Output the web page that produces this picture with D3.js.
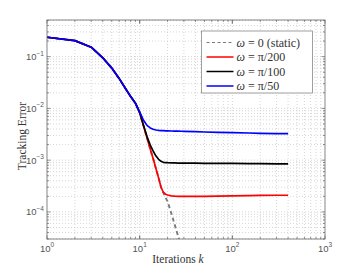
<!DOCTYPE html>
<html>
<head>
<meta charset="utf-8">
<script src="https://cdn.jsdelivr.net/npm/d3@7"></script>
<style>
  body { margin: 0; background: #fff; }
  svg { display: block; }
</style>
</head>
<body>
<div id="chart"></div>
<script>
// Iterations (x) for each series
const kAll = [1, 2, 3, 4, 5, 6, 7, 8, 9, 10, 11, 12, 13, 14, 15, 16, 17, 18, 19, 20,
  22, 24, 26, 28, 30, 40, 50, 70, 100, 150, 200, 300, 400];
const kStatic = [1, 2, 3, 4, 5, 6, 7, 8, 9, 10, 11, 12, 13, 14, 15, 16, 17, 18, 19, 20,
  22, 24, 26, 28];

// Tracking error
const errStatic = [0.237, 0.204, 0.152, 0.095, 0.060, 0.038, 0.0245, 0.0169, 0.0126, 0.0083,
  4.6e-3, 2.7e-3, 1.65e-3, 1.06e-3, 6.8e-4, 4.55e-4, 3.0e-4, 2.35e-4, 1.9e-4, 1.6e-4,
  9.3e-5, 5.5e-5, 3.4e-5, 2.2e-5];
const errPi200 = [0.237, 0.204, 0.152, 0.095, 0.060, 0.038, 0.0245, 0.0169, 0.0126, 0.0083,
  4.6e-3, 2.7e-3, 1.65e-3, 1.06e-3, 6.8e-4, 4.55e-4, 3.0e-4, 2.4e-4, 2.2e-4, 2.12e-4,
  2.05e-4, 2.02e-4, 2.0e-4, 2.0e-4, 2.0e-4, 2.0e-4, 2.0e-4, 2.02e-4, 2.04e-4, 2.06e-4,
  2.08e-4, 2.1e-4, 2.1e-4];
const errPi100 = [0.237, 0.204, 0.152, 0.095, 0.060, 0.038, 0.0245, 0.0169, 0.0126, 0.0083,
  4.7e-3, 2.85e-3, 1.95e-3, 1.5e-3, 1.2e-3, 1.04e-3, 9.5e-4, 9.1e-4, 9.0e-4, 8.95e-4,
  8.9e-4, 8.85e-4, 8.8e-4, 8.8e-4, 8.8e-4, 8.75e-4, 8.7e-4, 8.7e-4, 8.65e-4, 8.6e-4,
  8.55e-4, 8.5e-4, 8.5e-4];
const errPi50 = [0.237, 0.204, 0.152, 0.095, 0.060, 0.038, 0.0245, 0.0169, 0.0126, 0.0086,
  5.9e-3, 4.7e-3, 4.2e-3, 3.95e-3, 3.83e-3, 3.77e-3, 3.73e-3, 3.71e-3, 3.69e-3, 3.68e-3,
  3.66e-3, 3.65e-3, 3.63e-3, 3.62e-3, 3.6e-3, 3.55e-3, 3.5e-3, 3.45e-3, 3.4e-3, 3.35e-3,
  3.3e-3, 3.27e-3, 3.25e-3];

const xTicks = [1, 10, 100, 1000];
const xTickExp = ["0", "1", "2", "3"];
const yTicks = [1e-4, 1e-3, 1e-2, 1e-1];
const yTickExp = ["\u22124", "\u22123", "\u22122", "\u22121"];

const series = [
  { name: "0 (static)", k: kStatic, v: errStatic, color: "#7a7a7a", dash: "4,3" },
  { name: "\u03c0/200", k: kAll, v: errPi200, color: "#ff0000", dash: null },
  { name: "\u03c0/100", k: kAll, v: errPi100, color: "#000000", dash: null },
  { name: "\u03c0/50", k: kAll, v: errPi50, color: "#0000ff", dash: null }
];

const width = 359, height = 270;
const margin = { top: 20, right: 34, bottom: 31, left: 47 };
const w = width - margin.left - margin.right;
const h = height - margin.top - margin.bottom;

const svg = d3.select("#chart").append("svg")
  .attr("width", width)
  .attr("height", height);

const x = d3.scaleLog().domain([1, 1000]).range([0, w]);
const y = d3.scaleLog().domain([3e-5, 0.51]).range([h, 0]);

const g = svg.append("g").attr("transform", `translate(${margin.left},${margin.top})`);

// grid (major + minor), dotted
const xGrid = [];
for (let d = 1; d < 1000; d *= 10) for (let m = 1; m < 10; m++) if (d * m > 1) xGrid.push(d * m);
const yGrid = [];
for (let d = 1e-5; d < 1; d *= 10) for (let m = 1; m < 10; m++) {
  const v = d * m;
  if (v > 3e-5 && v < 0.51) yGrid.push(v);
}

g.append("g").selectAll("line").data(xGrid).enter().append("line")
  .attr("x1", d => x(d)).attr("x2", d => x(d))
  .attr("y1", 0).attr("y2", h)
  .attr("stroke", "#c4c4c4").attr("stroke-width", 0.7)
  .attr("stroke-dasharray", "1,2");
g.append("g").selectAll("line").data(yGrid).enter().append("line")
  .attr("y1", d => y(d)).attr("y2", d => y(d))
  .attr("x1", 0).attr("x2", w)
  .attr("stroke", "#c4c4c4").attr("stroke-width", 0.7)
  .attr("stroke-dasharray", "1,2");

// inward ticks on all four sides
const tickG = g.append("g").attr("stroke", "#666").attr("stroke-width", 0.7);
xGrid.concat(xTicks).forEach(d => {
  const len = xTicks.includes(d) ? 3.5 : 2;
  tickG.append("line").attr("x1", x(d)).attr("x2", x(d)).attr("y1", h).attr("y2", h - len);
  tickG.append("line").attr("x1", x(d)).attr("x2", x(d)).attr("y1", 0).attr("y2", len);
});
yGrid.forEach(d => {
  const len = yTicks.includes(d) ? 3.5 : 2;
  tickG.append("line").attr("y1", y(d)).attr("y2", y(d)).attr("x1", 0).attr("x2", len);
  tickG.append("line").attr("y1", y(d)).attr("y2", y(d)).attr("x1", w).attr("x2", w - len);
});

// lines
svg.append("defs").append("clipPath").attr("id", "plotclip")
  .append("rect").attr("width", w).attr("height", h);

const line = d3.line().x(d => x(d[0])).y(d => y(d[1]));
const lineG = g.append("g").attr("clip-path", "url(#plotclip)");
series.forEach(s => {
  lineG.append("path")
    .datum(s.k.map((k, i) => [k, s.v[i]]))
    .attr("d", line)
    .attr("fill", "none")
    .attr("stroke", s.color)
    .attr("stroke-width", s.dash ? 1.9 : 1.7)
    .attr("stroke-dasharray", s.dash)
    .attr("stroke-linejoin", "round");
});

// frame
g.append("rect").attr("width", w).attr("height", h)
  .attr("fill", "none").attr("stroke", "#666").attr("stroke-width", 0.8);

// tick labels
const labFont = "'Liberation Sans', Arial, sans-serif";
yTicks.forEach((d, i) => {
  const t = g.append("text")
    .attr("x", -3).attr("y", y(d) + 3.5)
    .attr("text-anchor", "end")
    .attr("font-family", labFont).attr("font-size", 9.5).attr("fill", "#555");
  t.append("tspan").text("10");
  t.append("tspan").attr("dy", -4.5).attr("font-size", 6.5).text(yTickExp[i]);
});
xTicks.forEach((d, i) => {
  const t = g.append("text")
    .attr("x", x(d)).attr("y", h + 12.5)
    .attr("text-anchor", "middle")
    .attr("font-family", labFont).attr("font-size", 9.5).attr("fill", "#555");
  t.append("tspan").text("10");
  t.append("tspan").attr("dy", -4.5).attr("font-size", 6.5).text(xTickExp[i]);
});

// axis labels
const serif = "'Liberation Serif', 'DejaVu Serif', serif";
const xl = svg.append("text")
  .attr("x", 178).attr("y", 263)
  .attr("text-anchor", "middle")
  .attr("font-family", serif).attr("font-size", 11.5).attr("fill", "#333");
xl.append("tspan").text("Iterations ");
xl.append("tspan").attr("font-style", "italic").text("k");

svg.append("text")
  .attr("transform", "translate(26,136) rotate(-90)")
  .attr("text-anchor", "middle")
  .attr("font-family", serif).attr("font-size", 11.5).attr("fill", "#333")
  .text("Tracking Error");

// legend
const leg = svg.append("g").attr("transform", "translate(201.5,31)");
leg.append("rect").attr("width", 111).attr("height", 62)
  .attr("fill", "#fff").attr("stroke", "#888").attr("stroke-width", 0.8);
series.forEach((s, i) => {
  const yy = 11.5 + i * 14.5;
  leg.append("line")
    .attr("x1", 5).attr("x2", 32).attr("y1", yy).attr("y2", yy)
    .attr("stroke", s.color).attr("stroke-width", s.dash ? 1.2 : 1.5)
    .attr("stroke-dasharray", s.dash ? "3,2.5" : null);
  const t = leg.append("text")
    .attr("x", 35).attr("y", yy + 4)
    .attr("font-family", serif).attr("font-size", 12).attr("fill", "#333");
  t.append("tspan").attr("font-style", "italic").text("\u03c9");
  t.append("tspan").text(" = " + s.name);
});
</script>
</body>
</html>
